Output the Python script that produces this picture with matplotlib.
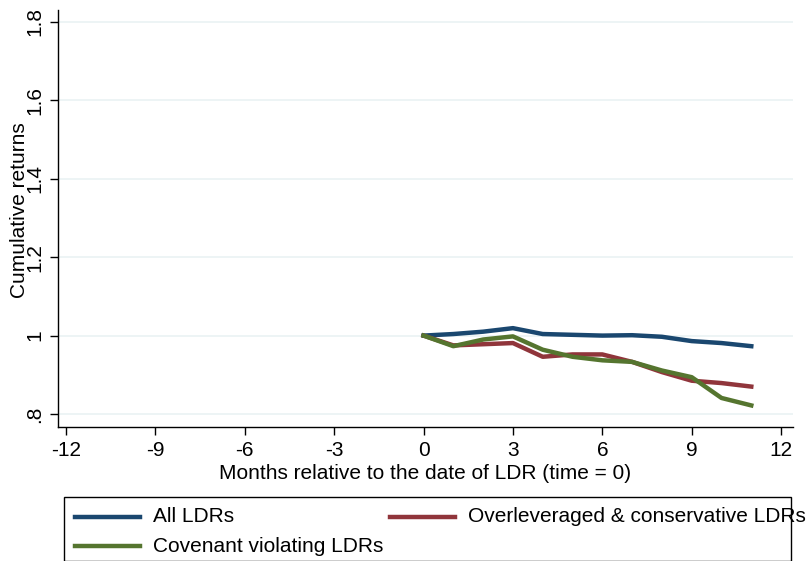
import matplotlib
matplotlib.use("Agg")
import matplotlib.pyplot as plt
from matplotlib.lines import Line2D
from matplotlib.patches import Rectangle

plt.rcParams['font.family'] = ['Liberation Sans', 'DejaVu Sans']

months = list(range(0, 12))
all_ldrs = [1.000, 1.004, 1.010, 1.019, 1.004, 1.002, 1.000, 1.001, 0.997, 0.986, 0.981, 0.973]
overlev = [1.000, 0.975, 0.978, 0.981, 0.946, 0.952, 0.952, 0.933, 0.907, 0.885, 0.879, 0.870]
covenant = [1.000, 0.973, 0.990, 0.998, 0.964, 0.946, 0.937, 0.933, 0.911, 0.894, 0.841, 0.822]

series_names = ["All LDRs", "Overleveraged & conservative LDRs", "Covenant violating LDRs"]
colors = ["#1a476f", "#90353b", "#55752f"]

xticks = [-12, -9, -6, -3, 0, 3, 6, 9, 12]
yticks = [0.8, 1.0, 1.2, 1.4, 1.6, 1.8]
yticklabels = [".8", "1", "1.2", "1.4", "1.6", "1.8"]

FS = 15
W, H = 810, 561
fig = plt.figure(figsize=(W / 100, H / 100), dpi=100)
ax = fig.add_axes([58 / W, (H - 427) / H, (793 - 58) / W, (427 - 10) / H])

ax.set_xlim(-12.27, 12.4)
ax.set_ylim(0.767, 1.83)

ax.plot(months, all_ldrs, color=colors[0], lw=3.2, zorder=3)
ax.plot(months, overlev, color=colors[1], lw=3.2, zorder=3)
ax.plot(months, covenant, color=colors[2], lw=3.2, zorder=4)

for y in yticks:
    ax.axhline(y, color="#eaf2f3", lw=1.2, zorder=1)

ax.set_xticks(xticks)
ax.set_xticklabels([str(x) for x in xticks])
ax.set_yticks(yticks)
ax.set_yticklabels(yticklabels, rotation=90, va='center')
ax.tick_params(axis='both', direction='out', length=6, width=1, color='black', labelsize=FS)
ax.tick_params(axis='x', pad=4)
ax.tick_params(axis='y', pad=4)

for s in ['top', 'right']:
    ax.spines[s].set_visible(False)
for s in ['left', 'bottom']:
    ax.spines[s].set_color('black')
    ax.spines[s].set_linewidth(1)

ax.set_xlabel("Months relative to the date of LDR (time = 0)", fontsize=FS, labelpad=3)
fig.text(20 / W, 1 - 210 / H, "Cumulative returns", rotation=90, fontsize=FS,
         ha='center', va='center')

# legend box
fig.patches.append(Rectangle((64 / W, 0), (791 - 64) / W, (H - 497) / H,
                             transform=fig.transFigure, fill=False, edgecolor='black',
                             lw=1, clip_on=False))
entries = [(75, 517, 0), (390, 517, 1), (75, 546, 2)]
for x0, y0, i in entries:
    fig.lines.append(Line2D([x0 / W, (x0 + 65) / W], [1 - y0 / H, 1 - y0 / H],
                            transform=fig.transFigure, color=colors[i], lw=3.2))
    fig.text((x0 + 78) / W, 1 - y0 / H, series_names[i], fontsize=FS,
             ha='left', va='center')

fig.savefig("out.png", dpi=100, facecolor='white')
